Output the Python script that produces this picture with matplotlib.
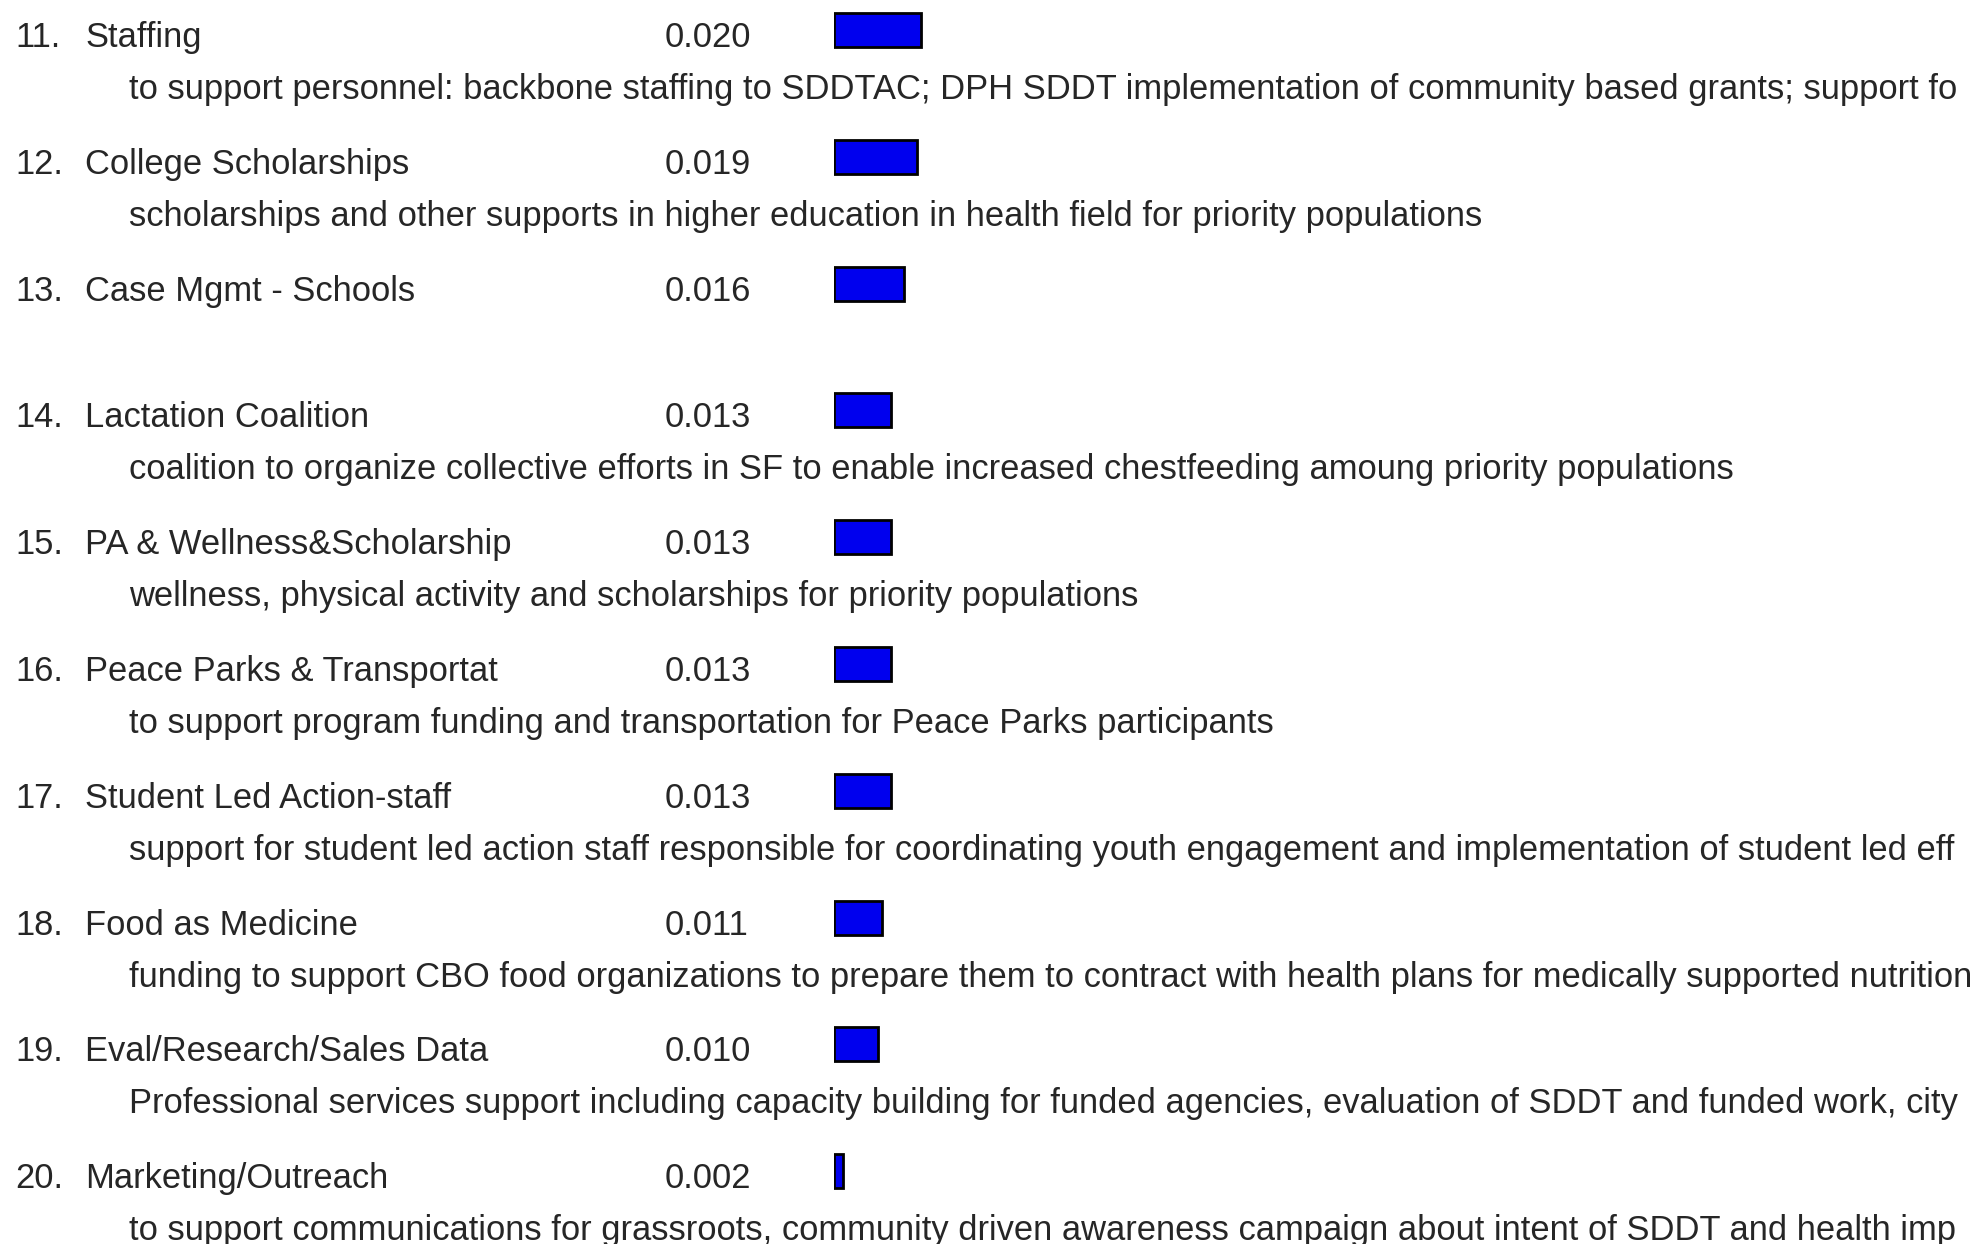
import matplotlib.pyplot as plt

plt.rcParams['font.family'] = ['Liberation Sans', 'DejaVu Sans']

# ranked items 11-20 (descriptions cut where the source cuts them)
ranks = [11, 12, 13, 14, 15, 16, 17, 18, 19, 20]
names = ["Staffing", "College Scholarships", "Case Mgmt - Schools",
         "Lactation Coalition", "PA & Wellness&Scholarship",
         "Peace Parks & Transportat", "Student Led Action-staff",
         "Food as Medicine", "Eval/Research/Sales Data", "Marketing/Outreach"]
weights = [0.020, 0.019, 0.016, 0.013, 0.013, 0.013, 0.013, 0.011, 0.010, 0.002]
notes = [
    "to support personnel: backbone staffing to SDDTAC; DPH SDDT implementation of community based grants; support fo",
    "scholarships and other supports in higher education in health field for priority populations",
    "",
    "coalition to organize collective efforts in SF to enable increased chestfeeding amoung priority populations",
    "wellness, physical activity and scholarships for priority populations",
    "to support program funding and transportation for Peace Parks participants",
    "support for student led action staff responsible for coordinating youth engagement and implementation of student led eff",
    "funding to support CBO food organizations to prepare them to contract with health plans for medically supported nutrition",
    "Professional services support including capacity building for funded agencies, evaluation of SDDT and funded work, city",
    "to support communications for grassroots, community driven awareness campaign about intent of SDDT and health imp",
]

W, H = 1987, 1244
fig = plt.figure(figsize=(W / 100, H / 100), dpi=100)
fig.patch.set_facecolor('white')

ax = fig.add_axes([0, 0, 1, 1])
ax.set_xlim(0, W)
ax.set_ylim(H, 0)
ax.axis('off')

txt = '#262626'
fs = 24.85
row_h = 126.8
base = [47 + row_h * i for i in range(len(ranks))]

for i, r in enumerate(ranks):
    y = base[i]
    ax.text(15, y, f"{r}.", fontsize=fs, color=txt, va='baseline')
    ax.text(85, y, names[i], fontsize=fs, color=txt, va='baseline')
    ax.text(665, y, f"{weights[i]:.3f}", fontsize=fs, color=txt, va='baseline')
    if notes[i]:
        ax.text(129, y + 52, notes[i], fontsize=fs, color=txt, va='baseline')

# bars on their own value axis
px_per_unit = 4350
xmax = 0.03
bx = fig.add_axes([834 / W, 0, xmax * px_per_unit / W, 1])
bx.set_xlim(0, xmax)
bx.set_ylim(H, 0)
bx.axis('off')
bx.barh([b - 17 for b in base], weights, height=34, left=0,
        color='#0000ee', edgecolor='black', linewidth=2.0)

fig.savefig('out.png', dpi=100)
